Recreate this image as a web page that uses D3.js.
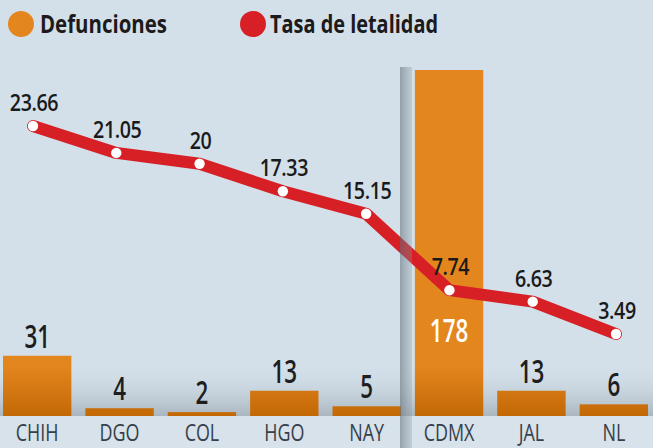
<!DOCTYPE html>
<html>
<head>
<meta charset="utf-8">
<script src="https://cdn.jsdelivr.net/npm/d3@7"></script>
<style>
  html, body { margin: 0; padding: 0; background: #d3e0ea; }
  svg { display: block; }
  text { font-family: "Open Sans", "Noto Sans", sans-serif; }
</style>
</head>
<body>
<script>
const categories = ["CHIH", "DGO", "COL", "HGO", "NAY", "CDMX", "JAL", "NL"];
const deaths = [31, 4, 2, 13, 5, 178, 13, 6];
const rates = [23.66, 21.05, 20, 17.33, 15.15, 7.74, 6.63, 3.49];
const rateLabels = ["23.66", "21.05", "20", "17.33", "15.15", "7.74", "6.63", "3.49"];
const legendLabels = ["Defunciones", "Tasa de letalidad"];

const W = 653, H = 448;
const orange = "#e4861e", red = "#d71f26";
const baseY = 416;

const svg = d3.select("body").append("svg").attr("width", W).attr("height", H);
const defs = svg.append("defs");

const gBand = defs.append("linearGradient").attr("id", "band").attr("x1", 0).attr("x2", 0).attr("y1", 0).attr("y2", 1);
gBand.append("stop").attr("offset", "0%").attr("stop-color", "#d3e0ea").attr("stop-opacity", 0);
gBand.append("stop").attr("offset", "100%").attr("stop-color", "#a9b6c0").attr("stop-opacity", 1);

const gBar = defs.append("linearGradient").attr("id", "barg").attr("gradientUnits", "userSpaceOnUse")
  .attr("x1", 0).attr("x2", 0).attr("y1", 366).attr("y2", baseY);
gBar.append("stop").attr("offset", "0%").attr("stop-color", orange);
gBar.append("stop").attr("offset", "100%").attr("stop-color", "#c26806");

const gSep = defs.append("linearGradient").attr("id", "sep").attr("x1", 0).attr("x2", 1).attr("y1", 0).attr("y2", 0);
gSep.append("stop").attr("offset", "0%").attr("stop-color", "#5d6b75").attr("stop-opacity", 0.55);
gSep.append("stop").attr("offset", "100%").attr("stop-color", "#8c9aa4").attr("stop-opacity", 0.3);

// background
svg.append("rect").attr("width", W).attr("height", H).attr("fill", "#d3e0ea");
svg.append("rect").attr("x", 0).attr("y", 362).attr("width", W).attr("height", baseY - 362).attr("fill", "url(#band)");
svg.append("rect").attr("x", 0).attr("y", baseY).attr("width", W).attr("height", H - baseY).attr("fill", "#d7e2eb");

// scales
const x = d3.scaleBand().domain(categories).range([-4, 655]).paddingInner(0.17).paddingOuter(0.085);
const xp = d3.scalePoint().domain(categories).range([33, 616]);
const yBar = d3.scaleLinear().domain([0, 178]).range([baseY, 70]);
const yLine = d3.scaleLinear().domain([0, 23.66]).range([370, 126]);

// bars
svg.append("g").selectAll("rect").data(deaths).join("rect")
  .attr("x", (d, i) => x(categories[i]))
  .attr("width", x.bandwidth())
  .attr("y", d => yBar(d))
  .attr("height", d => yBar(0) - yBar(d))
  .attr("fill", "url(#barg)");

// line
const lineGen = d3.line().x((d, i) => xp(categories[i])).y(d => yLine(d));
svg.append("path").datum(rates).attr("d", lineGen)
  .attr("fill", "none").attr("stroke", red).attr("stroke-width", 12)
  .attr("stroke-linejoin", "round").attr("stroke-linecap", "round");
svg.append("g").selectAll("circle").data(rates).join("circle")
  .attr("cx", (d, i) => xp(categories[i])).attr("cy", d => yLine(d))
  .attr("r", 5.2).attr("fill", "#fff");

// separator
svg.append("rect").attr("x", 400).attr("y", 67).attr("width", 12).attr("height", H - 67).attr("fill", "url(#sep)");

function stext(g, tx, ty, sx, str) {
  return g.append("text").attr("transform", `translate(${tx},${ty}) scale(${sx},1)`)
    .attr("text-anchor", "middle").text(str);
}

// bar labels
const bl = svg.append("g").attr("font-size", 32).attr("font-weight", 600);
deaths.forEach((d, i) => {
  const cx = x(categories[i]) + x.bandwidth() / 2;
  const inside = yBar(0) - yBar(d) > 120;
  const ty = inside ? yBar(0) - 74 : yBar(d) - 8;
  stext(bl, cx, ty, 0.7, d).attr("fill", inside ? "#fff" : "#1e1e1e");
});

// rate labels
const rl = svg.append("g").attr("font-size", 24).attr("font-weight", 600).attr("fill", "#1a1a1a");
rates.forEach((v, i) => {
  stext(rl, xp(categories[i]) + 1, yLine(v) - 15, 0.82, rateLabels[i]).attr("letter-spacing", -0.5);
});

// x axis labels
const axis = svg.append("g").attr("transform", `translate(0,${baseY})`)
  .call(d3.axisBottom(x).tickSize(0).tickPadding(0));
axis.select(".domain").remove();
axis.selectAll(".tick text")
  .attr("font-size", 23).attr("font-weight", 400).attr("fill", "#36404a")
  .attr("font-family", "'Open Sans', sans-serif")
  .attr("dy", 0).attr("y", 25)
  .attr("transform", "scale(0.78,1)");
axis.selectAll(".tick").each(function (d) {
  d3.select(this).attr("transform", `translate(${x(d) + x.bandwidth() / 2},0)`);
});

// legend
const lg = svg.append("g");
lg.append("circle").attr("cx", 21).attr("cy", 24).attr("r", 13).attr("fill", orange);
lg.append("circle").attr("cx", 253).attr("cy", 24).attr("r", 13).attr("fill", red);
lg.append("text").attr("x", 40).attr("y", 33).attr("font-size", 25).attr("font-weight", 700)
  .attr("fill", "#1c1a1a").attr("textLength", 127).attr("lengthAdjust", "spacingAndGlyphs").text(legendLabels[0]);
lg.append("text").attr("x", 270).attr("y", 33).attr("font-size", 25).attr("font-weight", 700)
  .attr("fill", "#1c1a1a").attr("textLength", 168).attr("lengthAdjust", "spacingAndGlyphs").text(legendLabels[1]);
</script>
</body>
</html>
